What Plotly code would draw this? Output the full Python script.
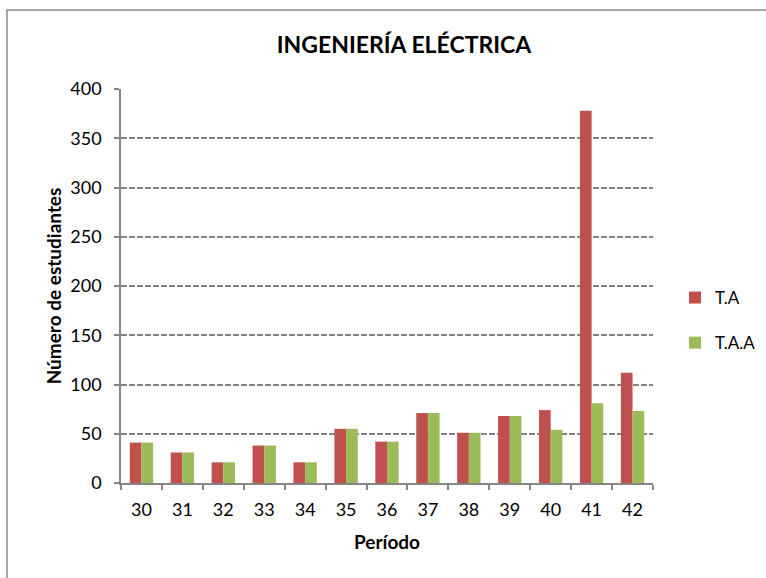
import plotly.graph_objects as go

periodos = ["30", "31", "32", "33", "34", "35", "36", "37", "38", "39", "40", "41", "42"]
ta = [41, 31, 21, 38, 21, 55, 42, 71, 51, 68, 74, 378, 112]
taa = [41, 31, 21, 38, 21, 55, 42, 71, 51, 68, 54, 81, 73]

FONT = "Lato"

fig = go.Figure()
fig.add_trace(go.Bar(x=periodos, y=ta, name="T.A", marker=dict(color="#C0504D", line=dict(width=0)),
                     legendgroup="a"))
fig.add_trace(go.Bar(x=periodos, y=taa, name="T.A.A", marker=dict(color="#9BBB59", line=dict(width=0)),
                     legendgroup="b"))

W, H = 766, 578
L, R, T, B = 121, 113, 89, 95
pw, ph = W - L - R, H - T - B

def px_x(p):
    return (p - L) / pw

def px_y(p):
    return (H - B - p) / ph

fig.update_layout(
    width=W, height=H,
    margin=dict(l=L, r=R, t=T, b=B, autoexpand=False),
    paper_bgcolor="white", plot_bgcolor="white",
    barmode="group", bargap=0.43, bargroupgap=0,
    font=dict(family=FONT, size=18, color="#000000"),
    title=dict(text="<b>INGENIERÍA ELÉCTRICA</b>", x=px_x(404), xref="paper", xanchor="center",
               y=1 - 45 / H, yanchor="middle", font=dict(size=23, family=FONT)),
    legend=dict(x=px_x(675), y=px_y(280), xanchor="left", yanchor="top",
                font=dict(size=17, family=FONT), tracegroupgap=20,
                itemwidth=30, bgcolor="rgba(0,0,0,0)"),
    xaxis=dict(
        title=dict(text="<b>Período</b>", font=dict(size=19), standoff=16),
        showline=True, linecolor="#868686", linewidth=1.5, automargin=False,
        ticks="outside", tickson="boundaries", ticklen=5, tickcolor="#868686", tickwidth=1.5,
        tickfont=dict(size=18), showgrid=False, ticklabelstandoff=10,
    ),
    yaxis=dict(
        title=dict(text="<b>Número de estudiantes</b>", font=dict(size=19), standoff=4),
        range=[0, 400], dtick=50, showline=True, linecolor="#868686", linewidth=1.5,
        automargin=False,
        ticks="outside", ticklen=5, tickcolor="#868686", tickwidth=1.5,
        tickfont=dict(size=18), ticklabelstandoff=9,
        showgrid=True, gridcolor="#868686", gridwidth=1.5, griddash="6px,2px",
        zeroline=False,
    ),
    showlegend=True,
)

fig.add_shape(type="rect", xref="paper", yref="paper",
              x0=px_x(7), x1=px_x(800), y0=px_y(620), y1=px_y(10),
              line=dict(color="#8a8a8a", width=1.5), fillcolor="rgba(0,0,0,0)", layer="below")

fig.write_html("out.html", config={"displayModeBar": False},
               post_script="document.body.style.margin='0px';")
